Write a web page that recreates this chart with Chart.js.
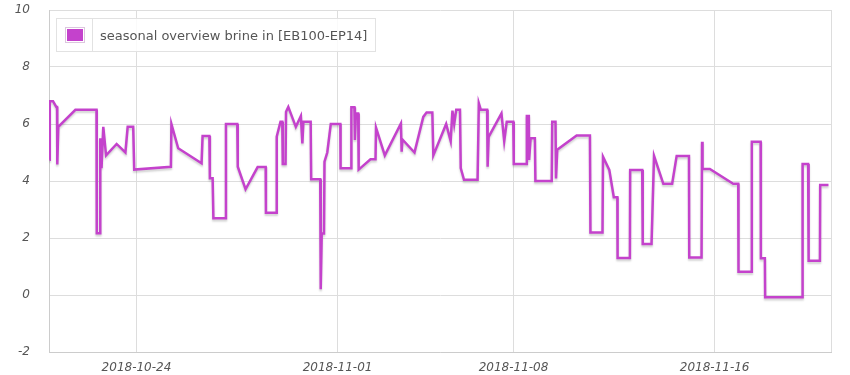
<!DOCTYPE html>
<html>
<head>
<meta charset="utf-8">
<script src="https://cdn.jsdelivr.net/npm/chart.js@4.4.1/dist/chart.umd.min.js"></script>
<style>
  body { margin: 0; background: #fff; }
  #wrap { position: relative; width: 850px; height: 375px; }
  #legend {
    position: absolute; left: 56px; top: 18px; height: 32px;
    border: 1px solid #e2e2e2; background: rgba(255,255,255,0.85);
    font-family: "DejaVu Sans", sans-serif; font-size: 13px; color: #555;
    display: flex; align-items: center;
  }
  #legend .sw { width: 35px; height: 32px; border-right: 1px solid #e2e2e2; display: flex; align-items: center; justify-content: center; }
  #legend .sw span { display: block; width: 16px; height: 12px; border: 1px solid #fff; outline: 1px solid #dcc6de; }
  #legend .lbl { padding: 0 8px 0 7px; }
</style>
</head>
<body>
<div id="wrap">
  <canvas id="mycanvas" width="850" height="375"></canvas>
  <div id="legend"><div class="sw"><span id="swatch"></span></div><div class="lbl" id="legendText"></div></div>
</div>
<script>
// days counted from 2018-10-20 00:00
var seriesName = 'seasonal overview brine in [EB100-EP14]';
var startDate = '2018-10-20';
var xMin = 0.52;
var xMax = 31.63;
var tickDates = ['2018-10-24', '2018-11-01', '2018-11-08', '2018-11-16'];
var yTicks = [-2, 0, 2, 4, 6, 8, 10];

var days = [
  0.54, 0.55, 0.68, 0.81, 0.84, 0.85, 0.89, 1.57, 2.41, 2.42,
  2.55, 2.56, 2.61, 2.68, 2.79, 3.21, 3.56, 3.65, 3.87, 3.91,
  5.37, 5.39, 5.66, 6.59, 6.63, 6.90, 6.92, 7.03, 7.06, 7.54,
  7.56, 8.01, 8.03, 8.34, 8.82, 9.14, 9.15, 9.57, 9.58, 9.73,
  9.80, 9.82, 9.93, 9.95, 10.04, 10.34, 10.54, 10.60, 10.64, 10.93,
  10.95, 11.31, 11.33, 11.37, 11.46, 11.48, 11.59, 11.73, 12.11, 12.12,
  12.54, 12.55, 12.67, 12.69, 12.73, 12.82, 12.84, 13.31, 13.51, 13.53,
  13.88, 14.52, 14.55, 14.58, 15.06, 15.41, 15.54, 15.77, 15.81, 16.32,
  16.50, 16.57, 16.64, 16.72, 16.87, 16.90, 17.03, 17.57, 17.62, 17.70,
  17.95, 17.97, 18.01, 18.52, 18.63, 18.73, 18.99, 19.01, 19.51, 19.53,
  19.61, 19.62, 19.68, 19.85, 19.87, 20.52, 20.54, 20.67, 20.69, 20.74,
  21.51, 22.04, 22.06, 22.54, 22.56, 22.81, 22.99, 23.13, 23.14, 23.63,
  23.64, 24.12, 24.14, 24.49, 24.59, 24.96, 25.31, 25.49, 25.98, 25.99,
  26.48, 26.50, 26.52, 26.81, 27.74, 27.94, 27.95, 28.47, 28.48, 28.83,
  28.84, 29.00, 29.01, 30.48, 30.50, 30.72, 30.74, 31.19, 31.20, 31.53
];
var brine = [
  4.75, 6.8, 6.8, 6.6, 6.6, 4.58, 5.9, 6.5, 6.5, 2.17,
  2.17, 5.5, 4.45, 5.9, 4.9, 5.3, 5.0, 5.9, 5.9, 4.4,
  4.5, 6.0, 5.15, 4.62, 5.58, 5.58, 4.1, 4.1, 2.69, 2.69,
  6.0, 6.0, 4.5, 3.71, 4.49, 4.49, 2.89, 2.89, 5.56, 6.08,
  6.08, 4.6, 4.6, 6.43, 6.6, 5.9, 6.28, 5.32, 6.08, 6.08,
  4.06, 4.06, 0.2, 2.16, 2.16, 4.68, 5.0, 6.0, 6.0, 4.45,
  4.45, 6.59, 6.59, 5.44, 6.37, 6.37, 4.4, 4.76, 4.76, 5.87,
  4.9, 6.02, 5.03, 5.46, 5.0, 6.25, 6.4, 6.4, 4.9, 6.0,
  5.4, 6.47, 6.0, 6.5, 6.5, 4.45, 4.04, 4.04, 6.73, 6.5,
  6.5, 4.5, 5.55, 6.37, 5.4, 6.08, 6.08, 4.6, 4.6, 6.28,
  6.28, 4.74, 5.5, 5.5, 4.0, 4.0, 6.08, 6.08, 4.09, 5.1,
  5.6, 5.6, 2.19, 2.19, 4.85, 4.39, 3.43, 3.43, 1.3, 1.3,
  4.39, 4.39, 1.79, 1.79, 4.88, 3.9, 3.9, 4.88, 4.88, 1.32,
  1.32, 5.38, 4.42, 4.42, 3.9, 3.9, 0.82, 0.82, 5.38, 5.38,
  1.29, 1.29, -0.08, -0.08, 4.6, 4.6, 1.2, 1.2, 3.86, 3.86
];

var lineColor = 'rgb(196, 66, 204)';
var textColor = '#555555';

var dayMs = 86400000;
var start = Date.parse(startDate);
var tickDays = tickDates.map(function(d) { return (Date.parse(d) - start) / dayMs; });

var points = [];
for (var i in days) {
  points.push({ x: days[i], y: brine[i] });
}

document.getElementById('legendText').textContent = seriesName;
document.getElementById('swatch').style.background = lineColor;

// soft shadow under the line
var shadowPlugin = {
  id: 'lineShadow',
  beforeDatasetDraw: function(chart) {
    var c = chart.ctx;
    c.save();
    c.shadowColor = 'rgba(0,0,0,0.18)';
    c.shadowBlur = 2;
    c.shadowOffsetX = 0;
    c.shadowOffsetY = 2;
  },
  afterDatasetDraw: function(chart) {
    chart.ctx.restore();
  }
};

var tickFont = { family: '"DejaVu Sans", sans-serif', size: 12, style: 'italic' };

var ctx = document.getElementById('mycanvas');
var lineGraph = new Chart(ctx, {
  type: 'line',
  data: {
    datasets: [{
      label: seriesName,
      data: points,
      borderColor: lineColor,
      backgroundColor: lineColor,
      borderWidth: 2.5,
      pointRadius: 0,
      tension: 0,
      fill: false
    }]
  },
  plugins: [shadowPlugin],
  options: {
    responsive: false,
    animation: false,
    layout: { padding: { left: 0, right: 19, top: 10, bottom: 0 } },
    plugins: { legend: { display: false }, tooltip: { enabled: false } },
    scales: {
      x: {
        type: 'linear',
        min: xMin,
        max: xMax,
        afterBuildTicks: function(scale) {
          var t = [{ value: xMin }];
          tickDays.forEach(function(v) { t.push({ value: v }); });
          t.push({ value: xMax });
          scale.ticks = t;
        },
        afterFit: function(scale) { scale.height = 23; },
        grid: { color: '#dddddd', drawTicks: false },
        border: { color: '#cccccc' },
        ticks: {
          autoSkip: false,
          maxRotation: 0,
          padding: 9,
          color: textColor,
          font: tickFont,
          callback: function(value) {
            var k = tickDays.indexOf(value);
            return k >= 0 ? tickDates[k] : '';
          }
        }
      },
      y: {
        min: yTicks[0],
        max: yTicks[yTicks.length - 1],
        afterBuildTicks: function(scale) {
          scale.ticks = yTicks.map(function(v) { return { value: v }; });
        },
        afterFit: function(scale) {
          scale.width = 49;
          // label padding should not push the plot area in
          scale.paddingTop = 0;
          scale.paddingBottom = 0;
        },
        grid: { color: '#dddddd', drawTicks: false },
        border: { color: '#cccccc' },
        ticks: { padding: 19, color: textColor, font: tickFont }
      }
    }
  }
});
</script>
</body>
</html>
